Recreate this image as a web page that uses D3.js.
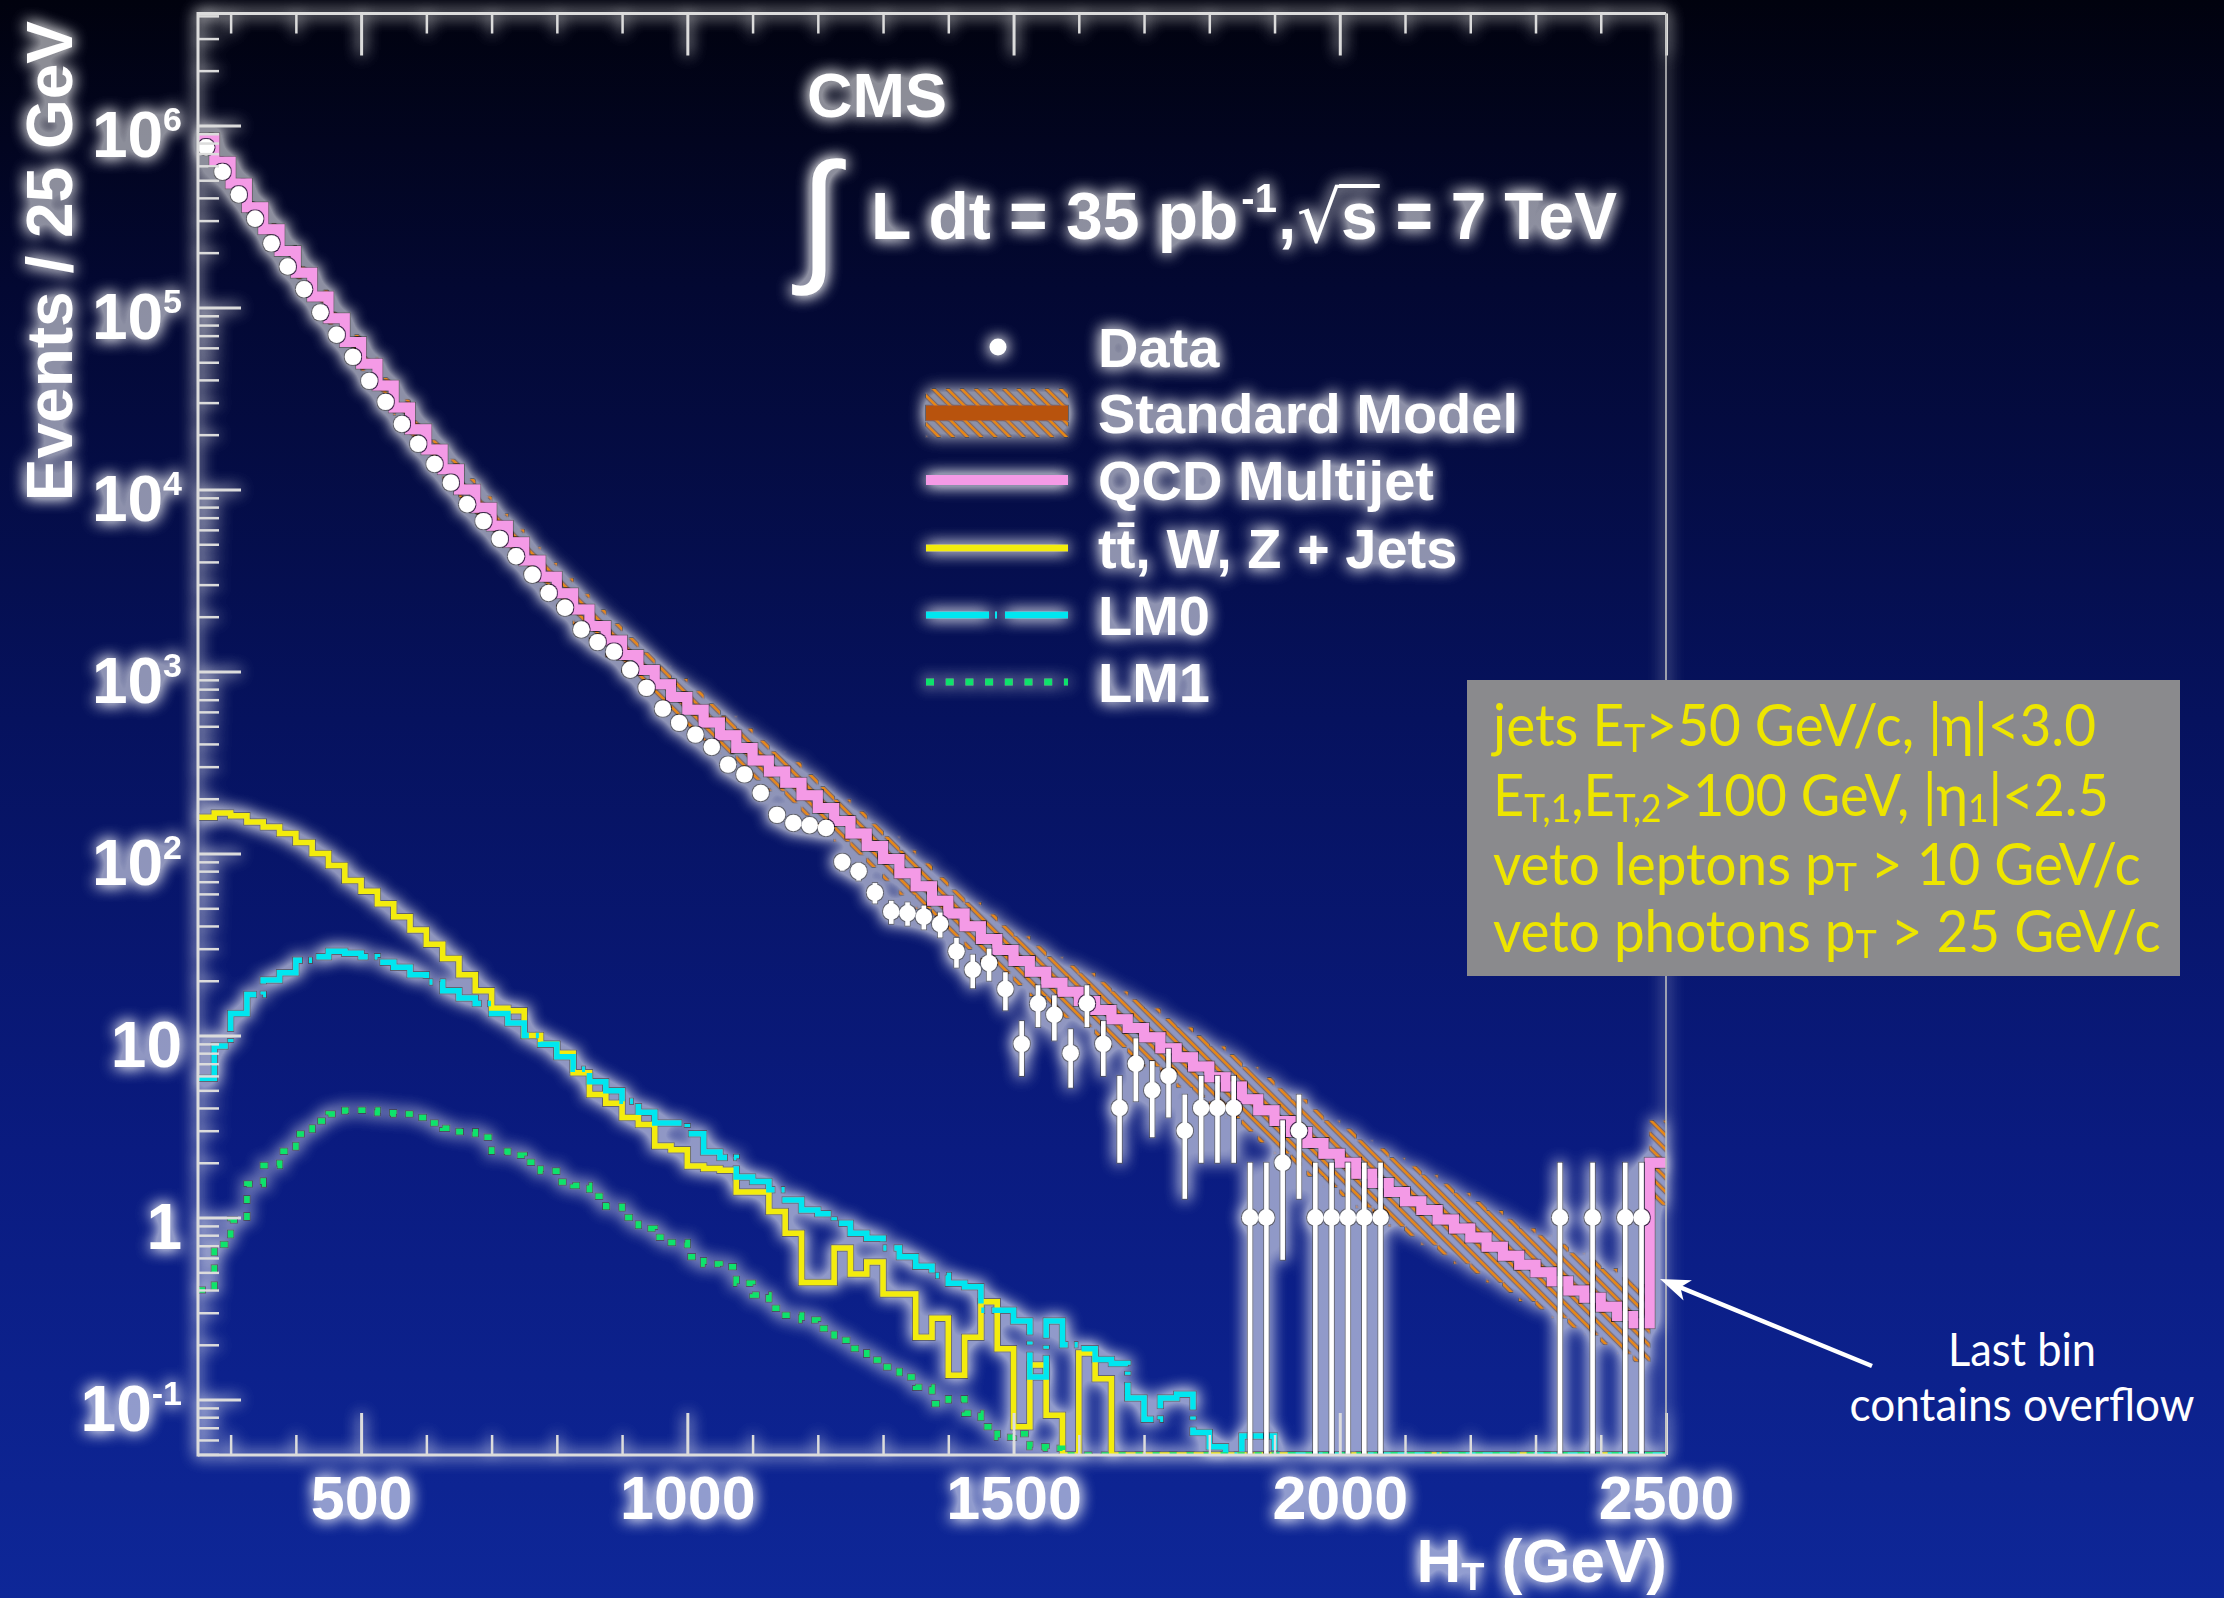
<!DOCTYPE html>
<html>
<head>
<meta charset="utf-8">
<title>CMS H_T distribution</title>
<script src="https://cdn.jsdelivr.net/npm/d3@7/dist/d3.min.js"></script>
<style>
html, body { margin: 0; padding: 0; background: #01020e; }
svg { display: block; }
text { white-space: pre; }
</style>
</head>
<body>
<svg id="chart" width="2224" height="1598"></svg>
<script>
// ---- H_T spectrum, 25 GeV bins from 250 to 2500 GeV (the last bin holds the overflow) ----
const htLow = 250;
const htHigh = 2500;
const binWidth = 25;

// Observed events per bin
const dataEvents = [
  759000, 556000, 417000, 307000, 225000, 168000, 126000, 94000, 70800, 53500,
  39500, 30300, 22900, 17800, 13800, 10900, 8300, 6700, 5350, 4300,
  3400, 2700, 2240, 1700, 1450, 1285, 1023, 813, 625, 522,
  450, 385, 308, 272, 215, 163, 147, 143, 138, 90,
  80, 61, 48, 47, 45, 41, 29, 23, 25, 18,
  9, 15, 13, 8, 15, 9, 4, 7, 5, 6,
  3, 4, 4, 4, 1, 1, 2, 3, 1, 1,
  1, 1, 1, 0, 0, 0, 0, 0, 0, 0,
  0, 0, 0, 1, 0, 1, 0, 1, 1, 0
];

// QCD multijet prediction
const qcdMultijet = [
  851000, 631000, 479000, 355000, 269000, 204000, 155000, 115000, 87100, 64600,
  49000, 37200, 28200, 21400, 16600, 12900, 10000, 7940, 6310, 5130,
  4070, 3310, 2690, 2190, 1780, 1480, 1230, 1020, 851, 724,
  617, 525, 447, 380, 324, 282, 245, 209, 178, 151,
  129, 110, 93.3, 78, 66, 55.0, 46.8, 39.8, 33.9, 29.5,
  25.7, 22.4, 19.5, 17.4, 15.5, 13.8, 12.3, 11.0, 9.77, 8.51,
  7.59, 6.76, 5.89, 5.25, 4.47, 3.89, 3.39, 2.95, 2.57, 2.24,
  2.00, 1.74, 1.55, 1.38, 1.23, 1.10, 0.977, 0.871, 0.776, 0.692,
  0.617, 0.550, 0.501, 0.447, 0.398, 0.363, 0.324, 0.288, 0.263, 2.0
];

// tt̄, W, Z + jets prediction
const ewkJets = [
  158, 167, 161, 149, 140, 129, 115, 100, 86, 71,
  62, 53, 45, 38, 31.7, 26.5, 21.6, 17.6, 14.1, 13.7,
  10.0, 8.95, 8.0, 6.24, 4.75, 4.25, 3.55, 3.24, 2.47, 2.36,
  1.92, 1.86, 1.82, 1.38, 1.38, 1.08, 0.82, 0.44, 0.44, 0.68,
  0.49, 0.57, 0.38, 0.38, 0.22, 0.28, 0.136, 0.22, 0.345, 0.19,
  0.071, 0.155, 0.082, 0, 0.18, 0.13, 0, 0, 0, 0,
  0, 0, 0, 0, 0, 0, 0, 0, 0, 0,
  0, 0, 0, 0, 0, 0, 0, 0, 0, 0,
  0, 0, 0, 0, 0, 0, 0, 0, 0, 0
];

// SUSY benchmark point LM0
const lm0Signal = [
  5.82, 8.75, 13.2, 16.8, 20.2, 22.1, 25.9, 27.1, 29.0, 28.3,
  27.1, 25.3, 23.7, 21.6, 19.7, 17.6, 16.1, 15.0, 13.2, 11.7,
  10.0, 8.95, 7.64, 6.52, 5.57, 4.98, 4.35, 3.79, 3.31, 3.31,
  2.89, 2.29, 2.14, 1.67, 1.58, 1.42, 1.25, 1.10, 1.05, 0.93,
  0.82, 0.77, 0.68, 0.61, 0.54, 0.48, 0.435, 0.417, 0.31, 0.31,
  0.27, 0.133, 0.27, 0.20, 0.19, 0.166, 0.158, 0.102, 0.078, 0.102,
  0.107, 0.066, 0.055, 0, 0.063, 0.063, 0, 0, 0, 0,
  0, 0, 0, 0, 0, 0, 0, 0, 0, 0,
  0, 0, 0, 0, 0, 0, 0, 0, 0, 0
];

// SUSY benchmark point LM1
const lm1Signal = [
  0.40, 0.71, 0.97, 1.53, 1.93, 2.31, 2.88, 3.39, 3.71, 3.88,
  3.88, 3.76, 3.71, 3.54, 3.31, 3.09, 2.96, 2.76, 2.31, 2.20,
  2.01, 1.80, 1.57, 1.50, 1.31, 1.15, 1.0, 0.87, 0.78, 0.73,
  0.61, 0.556, 0.537, 0.436, 0.376, 0.317, 0.291, 0.274, 0.246, 0.212,
  0.191, 0.165, 0.151, 0.133, 0.117, 0.095, 0.101, 0.084, 0.071, 0.062,
  0.065, 0.055, 0.054, 0, 0, 0, 0, 0, 0, 0,
  0, 0, 0, 0, 0, 0, 0, 0, 0, 0,
  0, 0, 0, 0, 0, 0, 0, 0, 0, 0,
  0, 0, 0, 0, 0, 0, 0, 0, 0, 0
];

// Relative uncertainty of the Standard Model total
const smRelUncertainty = [
  0.06, 0.06, 0.06, 0.07, 0.07, 0.07, 0.08, 0.08, 0.08, 0.09,
  0.09, 0.10, 0.10, 0.11, 0.12, 0.13, 0.14, 0.15, 0.16, 0.17,
  0.18, 0.19, 0.20, 0.21, 0.22, 0.23, 0.24, 0.24, 0.25, 0.25,
  0.26, 0.26, 0.27, 0.27, 0.28, 0.28, 0.29, 0.29, 0.30, 0.30,
  0.31, 0.31, 0.32, 0.32, 0.33, 0.33, 0.34, 0.34, 0.35, 0.35,
  0.36, 0.37, 0.38, 0.39, 0.40, 0.41, 0.42, 0.43, 0.44, 0.45,
  0.46, 0.47, 0.48, 0.49, 0.50, 0.50, 0.51, 0.51, 0.52, 0.52,
  0.53, 0.53, 0.54, 0.54, 0.55, 0.55, 0.56, 0.56, 0.57, 0.57,
  0.58, 0.58, 0.59, 0.59, 0.60, 0.60, 0.61, 0.61, 0.62, 0.70
];

// Axis ticks
const xMajorTicks = [500, 1000, 1500, 2000, 2500];
const yDecadeTicks = [0.1, 1, 10, 100, 1e3, 1e4, 1e5, 1e6];

// Text
const legendLabels = ['Data', 'Standard Model', 'QCD Multijet', 'tt\u0304, W, Z + Jets', 'LM0', 'LM1'];
const selectionLines = [
  [['jets E'], ['T', 'sub'], ['>50 GeV/c, |\u03b7|<3.0']],
  [['E'], ['T,1', 'sub'], [',E'], ['T,2', 'sub'], ['>100 GeV, |\u03b7'], ['1', 'sub'], ['|<2.5']],
  [['veto leptons p'], ['T', 'sub'], [' > 10 GeV/c']],
  [['veto photons p'], ['T', 'sub'], [' > 25 GeV/c']]
];

// ---- Layout ----
const W = 2224, H = 1598;
const plot = { left: 198, right: 1666, top: 13.5, bottom: 1455 };
const yMin = 0.0496, yMax = 4.12e6;
const SANS = "'Liberation Sans', Arial, Helvetica, sans-serif";
const GILL = "Lato, 'Open Sans', sans-serif";

const x = d3.scaleLinear().domain([htLow, htHigh]).range([plot.left, plot.right]);
const y = d3.scaleLog().domain([yMin, yMax]).range([plot.bottom, plot.top]);
const yc = v => y(Math.max(v, yMin));

const colors = {
  qcd: '#f49ae6', ewk: '#f3ec0c', lm0: '#00e6f0', lm1: '#0be36c',
  hatch: '#ea8a0e', smLine: '#b8520c', axis: '#dcdcdc'
};

const measureCtx = document.createElement('canvas').getContext('2d');
function inkBox(str, family, weight, size) {
  measureCtx.font = `${weight} ${size}px ${family}`;
  const m = measureCtx.measureText(str);
  return { asc: m.actualBoundingBoxAscent, desc: m.actualBoundingBoxDescent,
           left: m.actualBoundingBoxLeft, right: m.actualBoundingBoxRight, adv: m.width };
}

// stretch a text horizontally so its advance width equals `target`
function fitWidth(sel, anchorX, target) {
  const w = sel.node().getBBox().width;
  if (!w) return;
  const s = target / w;
  sel.attr('transform', `translate(${anchorX},0) scale(${s},1) translate(${-anchorX},0)`);
}

function stepPoints(values) {
  const pts = [];
  values.forEach((v, i) => {
    const lo = htLow + i * binWidth;
    pts.push([lo, v], [lo + binWidth, v]);
  });
  return pts;
}

function draw() {
  const svg = d3.select('#chart');
  const defs = svg.append('defs');

  // backdrop
  const bg = defs.append('linearGradient').attr('id', 'bg')
    .attr('x1', 0).attr('y1', 0).attr('x2', 0).attr('y2', 1);
  [[0, '#01020e'], [0.18, '#030832'], [0.45, '#06125e'], [0.72, '#0a1b80'], [1, '#0e2798']]
    .forEach(([o, c]) => bg.append('stop').attr('offset', o).attr('stop-color', c));
  svg.append('rect').attr('width', W).attr('height', H).attr('fill', 'url(#bg)');

  // white halo around everything drawn on the plot
  const glow = defs.append('filter').attr('id', 'glow').attr('filterUnits', 'userSpaceOnUse')
    .attr('x', 0).attr('y', 0).attr('width', W).attr('height', H);
  glow.append('feGaussianBlur').attr('in', 'SourceAlpha').attr('stdDeviation', 8).attr('result', 'blur');
  glow.append('feComponentTransfer').attr('in', 'blur').attr('result', 'amp')
    .append('feFuncA').attr('type', 'linear').attr('slope', 2.8);
  glow.append('feFlood').attr('flood-color', '#ffffff').attr('flood-opacity', 0.55).attr('result', 'white');
  glow.append('feComposite').attr('in', 'white').attr('in2', 'amp').attr('operator', 'in').attr('result', 'halo');
  const gm = glow.append('feMerge');
  gm.append('feMergeNode').attr('in', 'halo');
  gm.append('feMergeNode').attr('in', 'SourceGraphic');

  // thin dark rim around the histogram strokes
  const edge = defs.append('filter').attr('id', 'edge').attr('filterUnits', 'userSpaceOnUse')
    .attr('x', 0).attr('y', 0).attr('width', W).attr('height', H);
  edge.append('feMorphology').attr('in', 'SourceAlpha').attr('operator', 'dilate').attr('radius', 1.2).attr('result', 'fat');
  edge.append('feFlood').attr('flood-color', '#00001a').attr('flood-opacity', 0.75).attr('result', 'dark');
  edge.append('feComposite').attr('in', 'dark').attr('in2', 'fat').attr('operator', 'in').attr('result', 'rim');
  const em = edge.append('feMerge');
  em.append('feMergeNode').attr('in', 'rim');
  em.append('feMergeNode').attr('in', 'SourceGraphic');

  // hatch for the Standard Model uncertainty band
  const hatch = defs.append('pattern').attr('id', 'hatch').attr('patternUnits', 'userSpaceOnUse')
    .attr('width', 10).attr('height', 10).attr('patternTransform', 'rotate(45)');
  hatch.append('line').attr('x1', 0).attr('y1', 5).attr('x2', 10).attr('y2', 5)
    .attr('stroke', colors.hatch).attr('stroke-width', 2.6);

  defs.append('clipPath').attr('id', 'plotClip').append('rect')
    .attr('x', plot.left).attr('y', plot.top - 2)
    .attr('width', plot.right - plot.left).attr('height', plot.bottom - plot.top + 2);

  const g = svg.append('g').attr('filter', 'url(#glow)');

  // ---- histograms ----
  const hist = g.append('g').attr('clip-path', 'url(#plotClip)');
  const stepLine = d3.line().x(d => x(d[0])).y(d => yc(d[1]));

  const smTotal = qcdMultijet.map((q, i) => q + ewkJets[i]);
  const bandPts = [];
  smTotal.forEach((s, i) => {
    const lo = htLow + i * binWidth, u = 1 + smRelUncertainty[i];
    bandPts.push([lo, s / u, s * u], [lo + binWidth, s / u, s * u]);
  });
  const bandArea = d3.area().x(d => x(d[0])).y0(d => yc(d[1])).y1(d => yc(d[2]));
  hist.append('g').attr('filter', 'url(#edge)')
    .append('path').attr('d', bandArea(bandPts)).attr('fill', 'url(#hatch)');

  const lines = hist.append('g').attr('filter', 'url(#edge)').attr('fill', 'none')
    .attr('stroke-linejoin', 'miter').attr('stroke-linecap', 'butt');
  lines.append('path').attr('d', stepLine(stepPoints(ewkJets)))
    .attr('stroke', colors.ewk).attr('stroke-width', 5.5);
  lines.append('path').attr('d', stepLine(stepPoints(lm0Signal)))
    .attr('stroke', colors.lm0).attr('stroke-width', 5.5).attr('stroke-dasharray', '62,7,3,8');
  lines.append('path').attr('d', stepLine(stepPoints(lm1Signal)))
    .attr('stroke', colors.lm1).attr('stroke-width', 5.5).attr('stroke-dasharray', '7,10');
  lines.append('path').attr('d', stepLine(stepPoints(smTotal)))
    .attr('stroke', colors.smLine).attr('stroke-width', 3);
  lines.append('path').attr('d', stepLine(stepPoints(qcdMultijet)))
    .attr('stroke', colors.qcd).attr('stroke-width', 10);

  // ---- data points with Poisson error bars ----
  const pts = dataEvents.map((n, i) => ({ ht: htLow + (i + 0.5) * binWidth, n })).filter(d => d.n > 0);
  const dataG = hist.append('g').attr('filter', 'url(#edge)');
  dataG.selectAll('line.err').data(pts).join('line').attr('class', 'err')
    .attr('x1', d => x(d.ht)).attr('x2', d => x(d.ht))
    .attr('y1', d => yc(d.n + Math.sqrt(d.n)))
    .attr('y2', d => yc(d.n - Math.sqrt(d.n)))
    .attr('stroke', '#ffffff').attr('stroke-width', 4.5);
  dataG.selectAll('circle').data(pts).join('circle')
    .attr('cx', d => x(d.ht)).attr('cy', d => y(d.n)).attr('r', 8.2).attr('fill', '#ffffff');

  // ---- axes ----
  const axisG = g.append('g');
  const styleTicks = (sel, w) => sel.selectAll('.tick line').attr('stroke', colors.axis).attr('stroke-width', w);

  const xMinor = d3.range(300, htHigh, 100).filter(v => v % 500 !== 0);
  axisG.append('g').attr('transform', `translate(0,${plot.bottom})`)
    .call(d3.axisBottom(x).tickValues(xMinor).tickSize(-20).tickFormat(''))
    .call(a => a.select('.domain').remove()).call(a => styleTicks(a, 2.5));
  axisG.append('g').attr('transform', `translate(0,${plot.top})`)
    .call(d3.axisTop(x).tickValues(xMinor).tickSize(-20).tickFormat(''))
    .call(a => a.select('.domain').remove()).call(a => styleTicks(a, 2.5));
  axisG.append('g').attr('transform', `translate(0,${plot.top})`)
    .call(d3.axisTop(x).tickValues(xMajorTicks).tickSize(-42).tickFormat(''))
    .call(a => a.select('.domain').remove()).call(a => styleTicks(a, 3));

  const xAx = axisG.append('g').attr('transform', `translate(0,${plot.bottom})`)
    .call(d3.axisBottom(x).tickValues(xMajorTicks).tickSize(-42).tickPadding(0).tickFormat(d3.format('d')));
  xAx.select('.domain').remove();
  styleTicks(xAx, 3);
  xAx.attr('font-family', SANS).attr('font-size', 61).attr('font-weight', 'bold');
  xAx.selectAll('text').attr('y', 64).attr('dy', 0).attr('fill', '#ffffff');

  const yMinor = [];
  for (let k = -2; k <= 6; k++) for (let m = 2; m <= 9; m++) {
    const v = m * Math.pow(10, k);
    if (v > yMin && v < yMax) yMinor.push(v);
  }
  axisG.append('g').attr('transform', `translate(${plot.left},0)`)
    .call(d3.axisLeft(y).tickValues(yMinor).tickSize(-21).tickFormat(''))
    .call(a => a.select('.domain').remove()).call(a => styleTicks(a, 2.5));
  const yAx = axisG.append('g').attr('transform', `translate(${plot.left},0)`)
    .call(d3.axisLeft(y).tickValues(yDecadeTicks).tickSize(-43).tickPadding(16).tickFormat(() => ''));
  yAx.select('.domain').remove();
  styleTicks(yAx, 3);
  yAx.attr('font-family', SANS).attr('font-size', 64).attr('font-weight', 'bold');
  yAx.selectAll('.tick text').attr('dy', 31).attr('fill', '#ffffff').each(function (d) {
    const t = d3.select(this);
    const e = Math.round(Math.log10(d));
    if (e === 0) t.text('1');
    else if (e === 1) t.text('10');
    else {
      t.append('tspan').text('10');
      t.append('tspan').attr('dy', -26).attr('font-size', 34).text(String(e));
    }
  });

  // frame
  const frame = axisG.append('g').attr('stroke', colors.axis).attr('fill', 'none');
  frame.append('line').attr('x1', plot.left).attr('x2', plot.left).attr('y1', plot.top - 1.5).attr('y2', plot.bottom + 1.5).attr('stroke-width', 3);
  frame.append('line').attr('x1', plot.left).attr('x2', plot.right).attr('y1', plot.bottom).attr('y2', plot.bottom).attr('stroke-width', 3);
  frame.append('line').attr('x1', plot.left).attr('x2', plot.right).attr('y1', plot.top).attr('y2', plot.top).attr('stroke-width', 3);
  frame.append('line').attr('x1', plot.right).attr('x2', plot.right).attr('y1', plot.top).attr('y2', plot.bottom).attr('stroke-width', 1.6).attr('stroke', '#bdbdbd');

  // axis titles
  const xt = g.append('text').attr('x', 1667).attr('y', 1582).attr('text-anchor', 'end')
    .attr('font-family', SANS).attr('font-weight', 'bold').attr('font-size', 62).attr('fill', '#ffffff');
  xt.append('tspan').text('H');
  xt.append('tspan').attr('font-size', 38).attr('dy', 8).text('T');
  xt.append('tspan').attr('dy', -8).text(' (GeV)');

  g.append('text').attr('transform', 'translate(72,21) rotate(-90)').attr('text-anchor', 'end')
    .attr('font-family', SANS).attr('font-weight', 'bold').attr('font-size', 64).attr('fill', '#ffffff')
    .text('Events / 25 GeV');

  // ---- CMS label and luminosity ----
  const txt = (xp, yp, str, size, extra = {}) => {
    const t = g.append('text').attr('x', xp).attr('y', yp).attr('font-family', extra.family || SANS)
      .attr('font-weight', extra.weight || 'bold').attr('font-size', size).attr('fill', '#ffffff').text(str);
    return t;
  };
  txt(807, 117, 'CMS', 63);

  // integral sign sized to its ink box
  const intFam = "'Liberation Sans', Arial, sans-serif";
  const ib = inkBox('\u222b', intFam, 'normal', 100);
  const intScale = (297 - 158) / (ib.asc + ib.desc);
  const intSize = 100 * intScale;
  txt(792 + ib.left * intScale, 297 - ib.desc * intScale, '\u222b', intSize, { family: intFam, weight: 'normal' });

  let cx = 871;
  const p1 = txt(cx, 239, 'L dt = 35 pb', 66);
  cx += p1.node().getComputedTextLength() + 3;
  const p2 = txt(cx, 212, '-1', 40);
  cx += p2.node().getComputedTextLength() + 1;
  const p3 = txt(cx, 239, ',', 66);
  cx += p3.node().getComputedTextLength() + 2;
  const rootFam = "'DejaVu Sans', sans-serif";
  const rb = inkBox('\u221a', rootFam, 'normal', 100);
  const rScale = (244 - 184) / (rb.asc + rb.desc);
  const rootX = cx + rb.left * rScale;
  txt(rootX, 244 - rb.desc * rScale, '\u221a', 100 * rScale, { family: rootFam, weight: 'normal' });
  const rootRight = cx + (rb.left + rb.right) * rScale;
  cx = rootRight - 1;
  const p5 = txt(cx, 239, 's', 66);
  const sEnd = cx + p5.node().getComputedTextLength();
  g.append('line').attr('x1', rootRight - 3).attr('x2', sEnd + 2).attr('y1', 186).attr('y2', 186)
    .attr('stroke', '#ffffff').attr('stroke-width', 4);
  const p6 = txt(sEnd, 239, ' = 7 TeV', 66);
  fitWidth(p6, sEnd, 1617 - sEnd);

  // ---- legend ----
  const legX0 = 926, legX1 = 1068, legTextX = 1098;
  const rowY = [347, 413, 480, 548, 615, 682];
  const leg = g.append('g');
  leg.append('circle').attr('cx', 998).attr('cy', rowY[0]).attr('r', 8.5).attr('fill', '#ffffff');
  const smSym = leg.append('g').attr('filter', 'url(#edge)');
  smSym.append('rect').attr('x', legX0).attr('y', rowY[1] - 24).attr('width', legX1 - legX0).attr('height', 48)
    .attr('fill', 'url(#hatch)');
  smSym.append('line').attr('x1', legX0).attr('x2', legX1).attr('y1', rowY[1]).attr('y2', rowY[1])
    .attr('stroke', colors.smLine).attr('stroke-width', 15);
  leg.append('line').attr('x1', legX0).attr('x2', legX1).attr('y1', rowY[2]).attr('y2', rowY[2])
    .attr('stroke', colors.qcd).attr('stroke-width', 10);
  leg.append('line').attr('x1', legX0).attr('x2', legX1).attr('y1', rowY[3]).attr('y2', rowY[3])
    .attr('stroke', colors.ewk).attr('stroke-width', 7);
  leg.append('line').attr('x1', legX0).attr('x2', legX1).attr('y1', rowY[4]).attr('y2', rowY[4])
    .attr('stroke', colors.lm0).attr('stroke-width', 7).attr('stroke-dasharray', '63,6,2,8');
  leg.append('line').attr('x1', legX0).attr('x2', legX1).attr('y1', rowY[5]).attr('y2', rowY[5])
    .attr('stroke', colors.lm1).attr('stroke-width', 7).attr('stroke-dasharray', '8,11.7');
  legendLabels.forEach((lab, i) => {
    leg.append('text').attr('x', legTextX).attr('y', rowY[i] + 20)
      .attr('font-family', SANS).attr('font-weight', 'bold').attr('font-size', 56).attr('fill', '#ffffff')
      .text(lab);
  });

  // ---- event selection box ----
  svg.append('rect').attr('x', 1467).attr('y', 680).attr('width', 713).attr('height', 296)
    .attr('fill', '#8a8a8d');
  const boxBase = [746, 816, 885, 952];
  const boxWidth = [606, 616, 648, 668];
  selectionLines.forEach((parts, li) => {
    const t = svg.append('text').attr('x', 1493).attr('y', boxBase[li])
      .attr('font-family', GILL).attr('font-size', 58).attr('fill', '#ede500');
    let shifted = false;
    parts.forEach(([s, kind]) => {
      const ts = t.append('tspan').text(s);
      if (kind === 'sub') { ts.attr('font-size', 38).attr('dy', shifted ? 0 : 6); shifted = true; }
      else if (shifted) { ts.attr('dy', -6); shifted = false; }
    });
    fitWidth(t, 1493, boxWidth[li]);
  });

  // ---- overflow note with arrow ----
  const note1 = svg.append('text').attr('x', 2022).attr('y', 1366).attr('text-anchor', 'middle')
    .attr('font-family', GILL).attr('font-size', 46).attr('fill', '#ffffff').text('Last bin');
  fitWidth(note1, 2022, 148);
  const note2 = svg.append('text').attr('x', 2022).attr('y', 1421).attr('text-anchor', 'middle')
    .attr('font-family', GILL).attr('font-size', 46).attr('fill', '#ffffff').text('contains overflow');
  fitWidth(note2, 2022, 345);

  const tail = [1872, 1366], tip = [1660, 1279];
  const len = Math.hypot(tip[0] - tail[0], tip[1] - tail[1]);
  const ux = (tip[0] - tail[0]) / len, uy = (tip[1] - tail[1]) / len;
  const px = -uy, py = ux;
  svg.append('line').attr('x1', tail[0]).attr('y1', tail[1])
    .attr('x2', tip[0] - ux * 18).attr('y2', tip[1] - uy * 18)
    .attr('stroke', '#ffffff').attr('stroke-width', 4.5);
  const head = [
    [tip[0], tip[1]],
    [tip[0] - ux * 30 + px * 11, tip[1] - uy * 30 + py * 11],
    [tip[0] - ux * 22, tip[1] - uy * 22],
    [tip[0] - ux * 30 - px * 11, tip[1] - uy * 30 - py * 11]
  ];
  svg.append('path').attr('d', 'M' + head.map(p => p.join(',')).join('L') + 'Z').attr('fill', '#ffffff');
}

document.fonts.ready.then(draw);
</script>
</body>
</html>
